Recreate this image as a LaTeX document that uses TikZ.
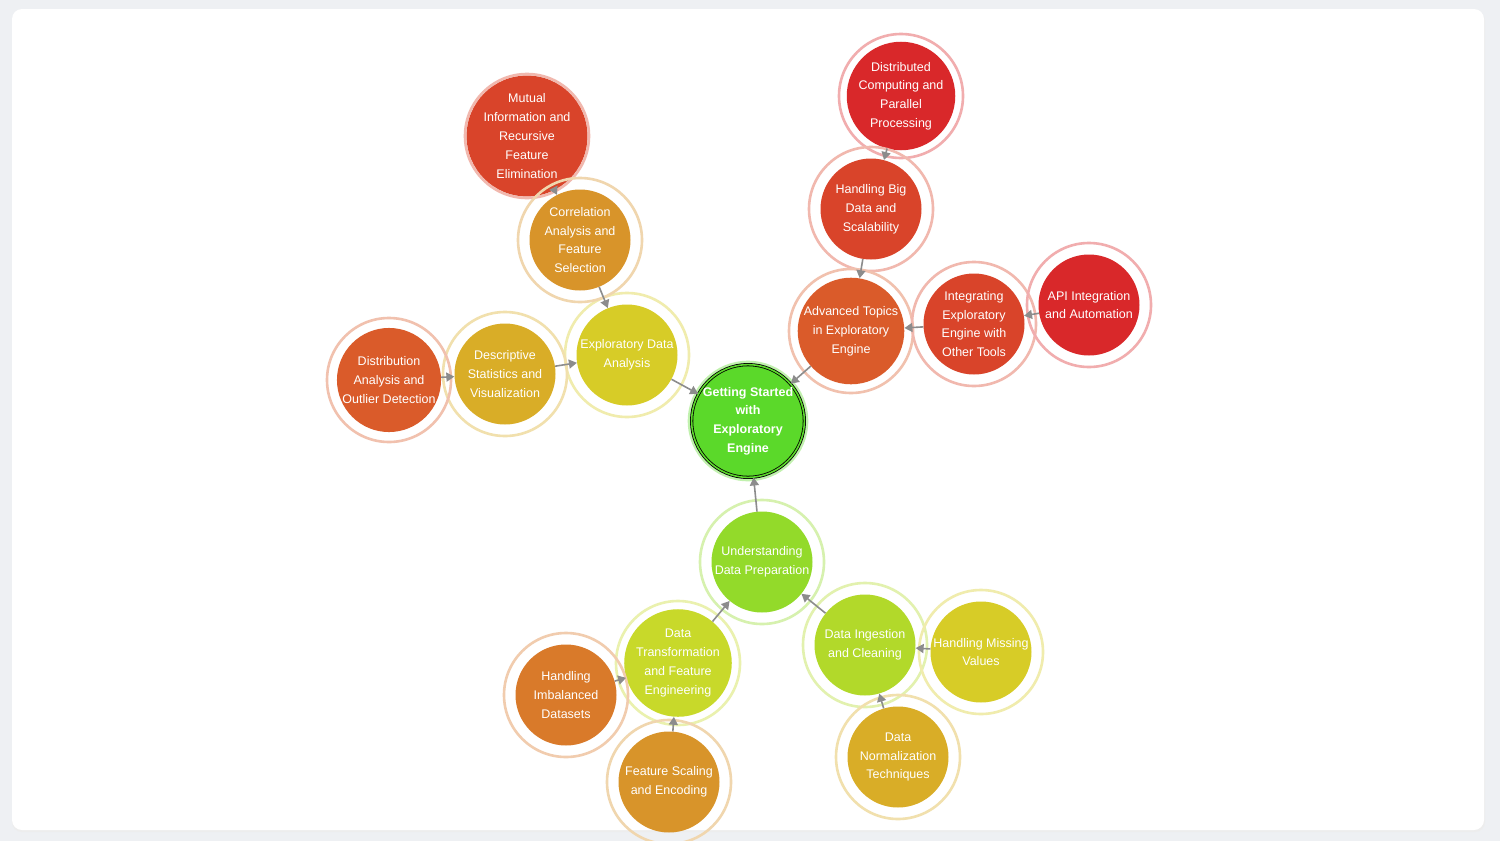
\documentclass[tikz,border=0pt]{standalone}
\usepackage{fontspec}
\setmainfont{Liberation Sans}
\usetikzlibrary{arrows.meta}
\definecolor{pageBg}{HTML}{EEF0F3}
\definecolor{linkGray}{HTML}{8C8C8C}
\definecolor{cGreen}{HTML}{5BD92A}
\definecolor{cLime}{HTML}{93DA2A}
\definecolor{cLimeB}{HTML}{B2D92A}
\definecolor{cLimeY}{HTML}{C8D92A}
\definecolor{cYellow}{HTML}{D7CC27}
\definecolor{cGold}{HTML}{D9AD27}
\definecolor{cAmber}{HTML}{D8942A}
\definecolor{cOrange}{HTML}{D97A2A}
\definecolor{cRust}{HTML}{DA5B2A}
\definecolor{cVermil}{HTML}{D9442A}
\definecolor{cRed}{HTML}{D9282A}
\tikzset{
  topic/.style={circle, fill=#1, minimum size=101pt, inner sep=0pt, text=white,
    align=center, font=\fontsize{12.5}{18.8}\selectfont},
  ring/.style={draw=#1!38, line width=2.6pt},
  link/.style={draw=linkGray, line width=1.6pt, -{Triangle[length=8pt,width=9pt]}}
}

\begin{document}
\begin{tikzpicture}[x=1pt,y=-1pt]
\useasboundingbox[fill=pageBg] (0,0) rectangle (1500,841);
\fill[black!7, rounded corners=10pt] (12,11) rectangle (1485,832);
\fill[white, rounded corners=10pt] (12,9) rectangle (1484,830);
\draw[ring=cGreen] (748,421) circle (59pt);
\node[topic=cGreen, minimum size=97pt, draw=black, line width=0.8pt, double=cGreen,
  double distance=1.6pt, font=\fontsize{12.5}{18.8}\selectfont\bfseries] (start) at (748,421)
  {Getting Started\\with\\Exploratory\\Engine};
\foreach \nm/\x/\y/\c/\txt in {
  eda/627/355/cYellow/{Exploratory Data\\Analysis},
  desc/505/374/cGold/{Descriptive\\Statistics and\\Visualization},
  dist/389/380/cRust/{Distribution\\Analysis and\\Outlier Detection},
  mutual/527/136/cVermil/{Mutual\\Information and\\Recursive\\Feature\\Elimination},
  corr/580/240/cAmber/{Correlation\\Analysis and\\Feature\\Selection},
  distrib/901/96/cRed/{Distributed\\Computing and\\Parallel\\Processing},
  bigdata/871/209/cVermil/{Handling Big\\Data and\\Scalability},
  adv/851/331/cRust/{Advanced Topics\\in Exploratory\\Engine},
  integ/974/324/cVermil/{Integrating\\Exploratory\\Engine with\\Other Tools},
  api/1089/305/cRed/{API Integration\\and Automation},
  prep/762/562/cLime/{Understanding\\Data Preparation},
  transf/678/663/cLimeY/{Data\\Transformation\\and Feature\\Engineering},
  imbal/566/695/cOrange/{Handling\\Imbalanced\\Datasets},
  scaling/669/782/cAmber/{Feature Scaling\\and Encoding},
  ingest/865/645/cLimeB/{Data Ingestion\\and Cleaning},
  missing/981/652/cYellow/{Handling Missing\\Values},
  normal/898/757/cGold/{Data\\Normalization\\Techniques}}{
  \draw[ring=\c] (\x,\y) circle (62pt);
  \node[topic=\c] (\nm) at (\x,\y) {\txt};
}
\foreach \a/\b in {dist/desc, desc/eda, mutual/corr, corr/eda, eda/start,
  distrib/bigdata, bigdata/adv, api/integ, integ/adv, adv/start,
  prep/start, transf/prep, imbal/transf, scaling/transf,
  ingest/prep, missing/ingest, normal/ingest}{
  \draw[link] (\a) -- (\b);
}
\end{tikzpicture}
\end{document}
